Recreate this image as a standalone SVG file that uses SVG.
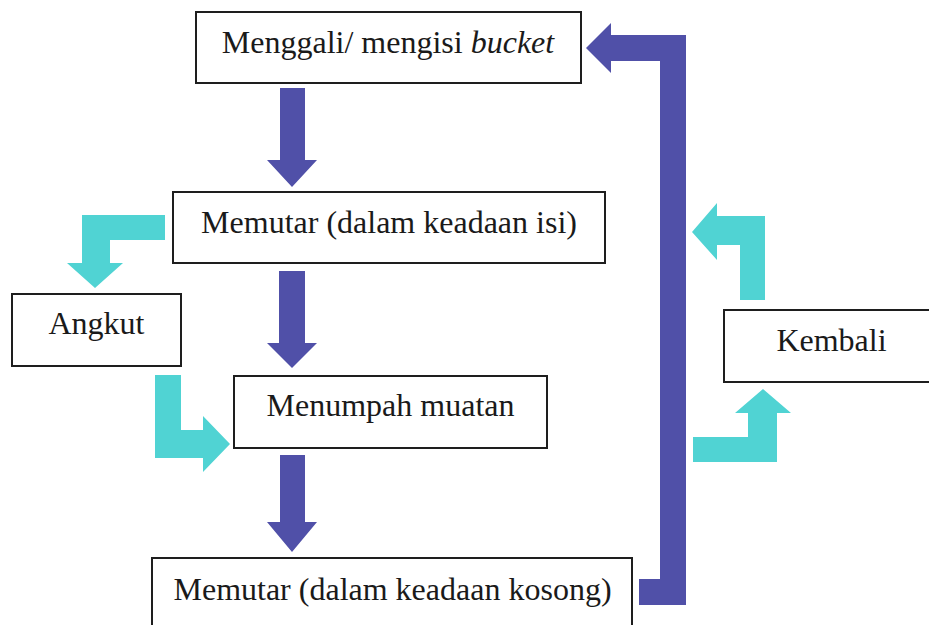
<svg xmlns="http://www.w3.org/2000/svg" width="929" height="625" viewBox="0 0 929 625">
  <style>
    .box { fill: none; stroke: #1e1e1e; stroke-width: 2; }
    .label { font-family: 'Liberation Serif', serif; font-size: 32px; fill: #1a1a1a; text-anchor: middle; }
    .flow { fill: #5050a8; }
    .side { fill: #50d3d3; }
  </style>
  <rect width="929" height="625" fill="#ffffff"/>

  <!-- connectors -->
  <g id="connectors">
    <!-- main cycle (dark blue) -->
    <polygon class="flow" points="280,88 305,88 305,160 317,160 292,187 267,160 280,160"/>
    <polygon class="flow" points="279,271 305,271 305,343 317,343 292,368 267,343 279,343"/>
    <polygon class="flow" points="280,455 305,455 305,522 317,522 292,552 267,522 280,522"/>
    <polygon class="flow" points="639,605 686,605 686,35 611,35 611,23 586,48 611,73 611,61 660,61 660,579 639,579"/>
    <!-- side loops (cyan) -->
    <polygon class="side" points="165,215 165,240 110,240 110,263 123,263 95,288 67,263 82,263 82,215"/>
    <polygon class="side" points="155,375 181,375 181,430 203,430 203,416 230,444 203,472 203,458 155,458"/>
    <polygon class="side" points="740,300 765,300 765,216 717,216 717,203 692,232 717,260 717,245 740,245"/>
    <polygon class="side" points="693,437 748,437 748,413 735,413 763,389 791,413 777,413 777,462 693,462"/>
  </g>

  <g id="menggali">
    <rect class="box" x="196" y="12" width="385" height="71"/>
    <text class="label" x="388" y="53" font-family="Liberation Serif, serif">Menggali/ mengisi <tspan font-style="italic">bucket</tspan></text>
  </g>

  <g id="memutar-isi">
    <rect class="box" x="173" y="192" width="432" height="71"/>
    <text class="label" x="389" y="233" font-family="Liberation Serif, serif">Memutar (dalam keadaan isi)</text>
  </g>

  <g id="angkut">
    <rect class="box" x="12" y="294" width="169" height="72"/>
    <text class="label" x="96.5" y="334" font-family="Liberation Serif, serif">Angkut</text>
  </g>

  <g id="menumpah">
    <rect class="box" x="234" y="376" width="313" height="72"/>
    <text class="label" x="390.5" y="416" font-family="Liberation Serif, serif">Menumpah muatan</text>
  </g>

  <g id="kembali">
    <rect class="box" x="724" y="310" width="220" height="72"/>
    <text class="label" x="831.5" y="351" font-family="Liberation Serif, serif">Kembali</text>
  </g>

  <g id="memutar-kosong">
    <rect class="box" x="152" y="558" width="480" height="80"/>
    <text class="label" x="392.5" y="600" font-family="Liberation Serif, serif">Memutar (dalam keadaan kosong)</text>
  </g>
</svg>
